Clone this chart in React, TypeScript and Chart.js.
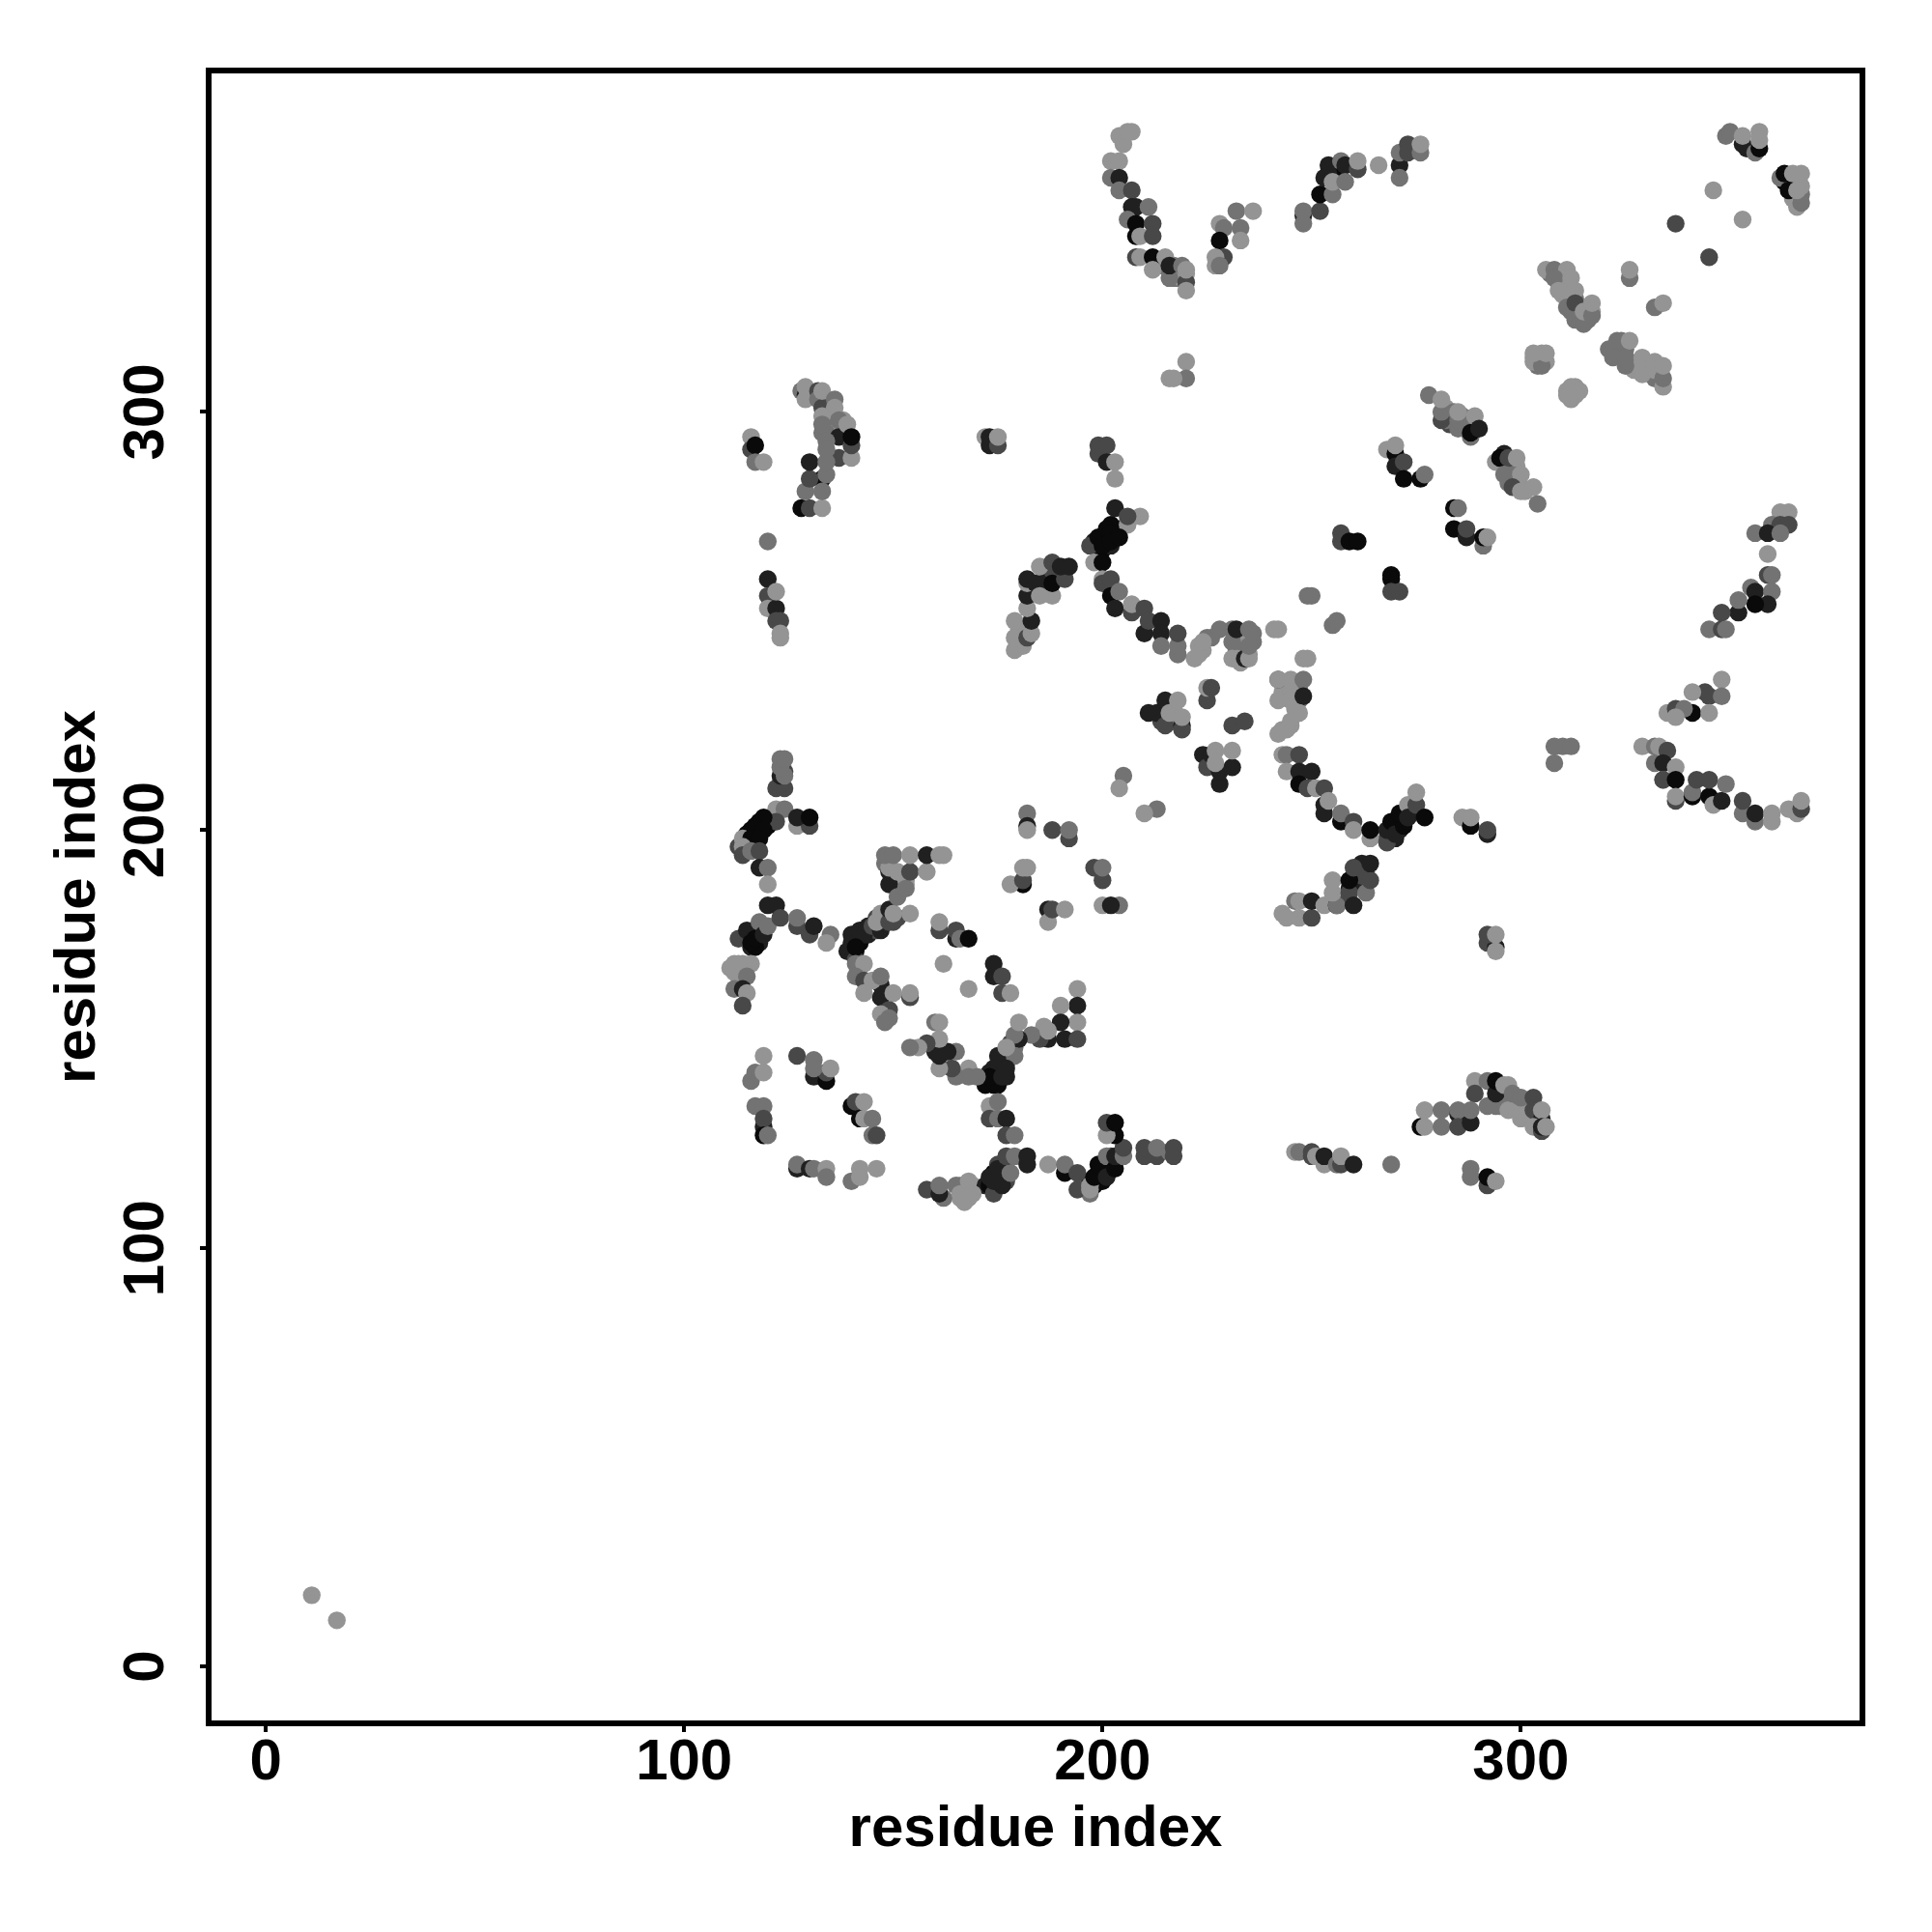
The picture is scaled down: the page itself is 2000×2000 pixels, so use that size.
import React, { useEffect, useRef } from "react";
import { Chart, registerables } from "chart.js";

Chart.register(...registerables);

const L = 148, M = 115, D = 72, K = 32, B = 10;
const tickValues = [0, 100, 200, 300];
const axisTitle = "residue index";

const denseLight = [
  [307,333,M],[309,333,M],[310,331,M],[309,331,L],[310,328,L],[311,329,L],[312,327,L],[313,327,M],[312,324,M],[314,324,M],[316,325,L],[316,322,M],[315,322,L],[317,324,L],[314,323,M],[313,323,M],[310,333,L],[311,327,L],
  [323,315,M],[324,313,D],[326,312,M],[327,311,L],[328,311,L],[330,311,L],[331,309,L],[332,308,M],[333,309,M],[327,310,L],[325,315,M],
  [304,312,L],[305,312,M],[304,313,L],[305,314,L],[304,311,M],[306,312,L],[303,313,L],
  [312,305,L],[311,304,L],[313,306,L],[313,304,L],[312,304,L],
  [243,235,L],[244,235,L],[246,235,M],[247,234,M],[243,232,L],[244,232,L],[246,232,M],[247,231,M],[246,229,L],[245,225,L],[243,224,L],[243,233,L],[245,233,L],
  [231,248,M],[233,247,M],[234,247,L],[236,247,M],[232,243,M],[233,243,L],[235,242,L],[234,243,M],[232,241,L],[236,245,M],[224,243,L],[225,246,M],[226,246,M],[222,241,L],
  [151,187,L],[152,188,M],[152,186,M],[153,187,L],[150,187,L],[150,189,M],[153,188,L],[148,192,M],[149,193,D],
  [166,115,L],[167,114,L],[168,113,L],[169,115,L],[167,113,L],[166,112,L],[168,115,L],
  [134,300,L],[135,297,M],[136,296,M],[137,296,L],[138,296,L],[135,299,M],[138,298,L],[133,295,M],[134,295,M],[138,295,L],
  [365,355,L],[366,355,L],[366,351,M],[367,352,M],[367,354,L],[365,351,L],
  [282,301,L],[283,299,M],[284,300,M],[286,299,M],[283,297,D],[286,297,M],[287,296,M],[282,298,M],
  [296,287,M],[297,286,L],[298,284,L],[299,283,L],[301,281,L],[299,287,L],[298,288,M],[300,282,L],[297,283,M],
  [298,135,M],[299,136,M],[301,134,L],[302,135,M],[300,131,L],[296,137,M],[301,132,L],[303,134,M],[296,134,M],[294,134,M],[295,134,M],
  [180,245,L],[180,244,L],[181,247,L],[181,244,L],[180,248,L],[112,168,L],[114,168,L],[112,166,L],[114,166,L],
  [216,230,L],[217,229,L],[217,226,L],[214,226,D],[215,229,K],[213,335,L],[214,335,M],[217,335,M],[218,332,M],[218,334,L],[217,332,M],[219,332,L],[220,333,L],
];
const denseDark = [
  [199,268,B],[200,270,B],[201,270,B],[203,272,B],[203,270,B],[204,272,K],[202,273,B],[200,267,B],[198,269,K],[202,268,K],
  [269,199,K],[270,200,B],[271,202,B],[272,203,B],[273,204,K],[268,198,D],[270,198,K],[271,200,K],[274,205,K],[269,201,B],
  [115,199,B],[116,200,B],[117,199,B],[118,202,B],[119,202,B],[120,201,B],[115,197,K],[117,197,K],[113,196,D],
  [115,175,K],[116,175,B],[117,176,B],[118,176,K],[119,177,K],[116,172,K],[118,173,K],[117,172,B],
  [140,175,K],[141,174,K],[141,171,B],[142,173,B],[144,175,K],[144,177,K],[146,176,D],[146,179,D],[148,178,K],[148,180,D],[147,177,D],[150,178,D],[149,179,M],
  [175,142,K],[176,143,K],[177,144,D],[178,146,D],[179,148,M],[178,149,D],[172,139,B],[174,139,B],[175,139,B],[177,141,K],[178,147,M],
  [172,115,K],[174,114,K],[175,116,K],[176,117,K],[177,119,D],[174,118,B],[175,120,D],[177,116,D],[173,115,B],
  [197,116,B],[198,115,B],[199,116,B],[199,118,B],[200,119,K],[201,120,K],[200,116,B],[202,120,K],[202,122,D],[197,113,M],
  [183,258,K],[186,258,K],[186,261,L],[187,262,D],[189,262,K],[187,261,K],[190,262,K],[191,262,K],[188,262,D],
  [363,355,B],[354,363,K],[256,358,K],[255,357,B],[254,357,K],[259,186,K],[261,187,K],[262,189,D],[262,192,K],[263,190,D],[258,184,D],
];

const corner = [[11, 17, L], [17, 11, L]];
const leftUpperA = [
  [116,294,L],[116,291,D],[117,292,B],[117,288,M],[119,288,L],
  [128,277,B],[133,284,B],[130,277,D],[133,277,L],[129,281,M],[133,281,M],[130,284,D],[134,285,M],[130,288,K],[137,289,D],[140,289,L],[134,288,M],
  [128,305,M],[129,304,K],[129,303,L],[129,306,L],[132,305,D],[132,303,M],[133,301,D],[133,305,L],[136,303,M],[136,301,L],[133,299,L],[133,297,M],[137,298,M],[137,294,K],[134,293,M],[134,291,M],[139,297,L],[140,292,D],[140,294,B],
];
const leftUpperB = [
  [120,269,M],[120,260,K],[120,256,D],[120,253,L],[122,253,K],[122,257,L],[122,250,D],[123,250,D],[123,247,L],[123,246,L],
];
const stackBlock = [
  [122,210,D],[124,210,D],[123,211,D],[123,213,K],[124,214,D],[124,213,M],[123,215,M],[123,217,M],[124,217,M],[122,205,L],[124,205,M],
  [122,202,D],[127,201,L],[130,201,D],[127,203,K],[130,203,B],[119,203,B],[117,201,B],[119,200,B],[114,198,L],[116,198,B],[118,198,B],[114,196,L],[114,194,D],[116,195,M],[118,195,D],
  [118,191,K],[120,191,M],[120,187,L],
];
const blockB = [
  [113,174,D],[115,176,K],[116,173,B],[118,178,M],[117,174,B],[119,175,K],[120,177,M],[120,182,K],[122,182,K],[123,179,D],
  [127,177,D],[127,179,M],[130,175,D],[131,177,K],[135,175,M],[134,173,L],
  [111,167,L],[113,168,L],[113,165,L],[116,168,L],[115,165,M],[112,162,M],[114,162,K],[115,161,L],[114,158,D],
];
const blockC = [
  [139,171,K],[140,173,K],[141,169,D],[142,176,K],[143,175,K],[141,172,B],[145,177,D],[147,176,K],[146,178,L],[147,180,L],[149,178,D],[149,181,K],[151,179,D],[150,180,L],[154,180,L],
  [149,187,K],[149,190,K],[149,191,L],[151,190,L],[151,184,M],[153,186,M],[154,190,D],[158,190,L],[148,194,M],[150,194,M],[154,194,L],[158,194,K],[161,194,L],[162,194,L],
  [141,168,M],[143,168,L],[141,165,M],[143,164,D],[147,163,K],[147,160,K],[145,164,L],[147,165,M],[143,161,L],[150,161,L],[154,160,D],[154,161,L],
  [149,157,D],[147,156,L],[149,155,M],[148,154,M],
];
const blockD = [
  [161,176,D],[161,178,L],[165,174,K],[165,176,D],[166,174,M],[168,174,B],[162,168,L],[174,168,K],[174,165,K],[176,165,D],[176,161,D],[178,161,L],[168,162,L],
  [205,213,M],[204,210,L],[213,205,M],[210,204,L],[182,204,M],[182,201,K],[182,200,L],[188,200,D],[192,198,D],[192,200,M],[181,187,B],[178,187,L],[181,188,D],[181,191,L],[182,191,L],
  [198,191,D],[200,188,D],[200,191,M],[187,181,K],[187,178,L],[188,181,D],[191,181,L],[200,182,L],[204,182,M],[202,182,K],
];
const bandE = [
  [194,162,L],[194,158,K],[190,158,L],[194,154,L],[190,154,K],[186,153,L],[191,150,K],[194,150,D],[187,150,K],[185,150,D],[183,151,M],[187,152,L],[180,150,K],[179,151,M],[180,154,L],
  [177,146,D],[175,146,K],[179,146,M],[177,148,L],[177,143,K],[174,143,K],[173,142,K],[172,140,B],[174,140,B],[173,141,B],[176,141,K],[168,143,L],[165,141,M],[168,141,M],[170,141,M],[164,143,D],[161,143,L],
  [165,147,M],[163,147,K],[160,147,K],[161,146,K],[161,150,L],[160,154,M],[161,154,L],[158,149,D],[156,148,L],[154,148,M],
];
const lowerLeft = [
  [119,146,L],[116,140,M],[117,142,M],[119,142,L],[127,146,D],[131,145,M],[131,141,K],[134,140,B],[134,142,D],[131,143,M],[135,143,L],
  [117,134,M],[119,134,M],[119,129,K],[119,131,D],[119,127,B],[120,127,M],
  [140,134,B],[141,135,D],[143,135,L],[142,131,B],[143,131,L],[145,131,M],[145,127,M],[146,127,D],
  [127,119,K],[127,120,M],[130,119,K],[131,119,M],[134,119,L],[134,117,M],[142,119,L],[146,119,L],[140,116,M],[142,117,L],
];
const lowerMiddle = [
  [158,114,D],[162,112,M],[161,113,K],[161,115,M],[165,115,M],[167,111,L],[166,113,L],[168,116,L],[169,113,L],[168,112,L],
  [173,117,K],[174,113,D],[176,115,K],[174,116,K],[175,119,K],[178,118,M],[177,122,D],[179,122,M],[182,120,K],[182,122,K],
  [173,134,L],[175,135,M],[173,131,D],[175,131,M],[177,131,K],[177,127,D],[179,127,M],
  [187,120,L],[191,118,B],[191,120,M],[194,114,D],[194,118,D],[197,114,L],[197,115,L],[198,117,B],[199,120,B],[201,117,K],[201,122,M],[203,119,B],[203,122,K],[205,122,M],[205,124,D],[203,127,B],[201,127,L],[201,130,D],[203,130,B],
  [210,122,D],[210,124,D],[213,122,D],[213,124,M],[216,123,M],[217,122,D],[217,124,D],
];
const lowerRight = [
  [246,123,L],[247,123,M],[250,122,D],[250,123,D],[251,122,L],[253,120,L],[253,122,K],[256,120,M],[257,120,D],[257,122,L],[260,120,K],[269,120,M],
  [276,129,B],[277,133,L],[281,133,M],[277,129,L],[281,129,M],[285,132,K],[285,133,M],[285,129,D],[288,130,K],[289,140,L],[289,137,D],[288,133,M],[292,134,M],[292,140,M],[294,137,K],[294,140,B],
  [296,139,L],[297,139,L],[297,133,L],[298,137,M],[300,133,L],[300,136,M],[303,136,D],[303,133,D],[305,131,K],[305,133,L],[303,129,L],[305,128,D],[305,129,K],[306,129,L],
  [288,119,M],[288,117,M],[292,115,D],[292,117,B],[294,116,L],
];
const center = [
  [211,228,K],[213,228,K],[215,231,K],[215,225,D],[216,228,L],[219,225,K],[219,224,D],[218,231,L],[219,227,L],
  [225,231,D],[225,234,L],[226,234,D],[231,225,D],[234,226,D],
  [224,218,K],[225,215,D],[228,211,K],[228,214,K],[226,218,K],[227,219,L],[231,215,K],[231,219,L],[227,216,L],
  [242,236,D],[242,231,L],[245,231,L],[242,236,L],[245,236,L],[248,236,M],[248,232,K],[247,228,L],[245,226,L],[244,224,L],[242,223,L],
  [243,218,L],[244,218,M],[247,218,D],[244,214,L],[247,214,K],[247,211,B],[249,210,D],[250,214,K],[251,210,L],[253,210,D],[253,204,K],[253,206,K],[254,207,L],[257,202,B],[257,204,M],[260,202,D],[260,200,L],[264,198,L],[264,200,B],
  [268,197,D],[268,200,K],[269,202,B],[270,199,K],[272,201,B],[271,204,B],[273,206,L],[273,203,K],[275,206,D],[275,209,L],[277,203,B],[286,203,L],[288,201,B],[288,203,L],[292,199,K],[292,200,D],
  [292,173,D],[294,172,K],[294,171,L],[292,175,D],[294,175,L],
];
const lowerHook = [
  [243,180,L],[244,179,L],[247,179,L],[250,179,D],[246,183,M],[247,183,L],[250,183,K],[253,182,L],[256,182,B],[256,182,M],[255,185,L],[259,185,D],[260,182,K],[255,188,L],[259,188,B],[260,191,D],[263,185,M],[264,188,D],[264,192,K],
];
const middleArc = [
  [199,290,D],[199,292,D],[201,292,D],[201,288,K],[203,288,L],[203,284,L],
  [203,277,K],[206,273,L],[209,275,L],[206,275,D],[197,268,D],[199,270,B],[200,268,B],[201,272,B],[202,271,B],[202,269,B],[204,270,B],
  [198,264,L],[200,264,B],[200,260,L],[200,259,D],[202,260,D],[202,256,B],[204,257,M],[203,253,K],[207,252,D],[207,254,L],[210,253,D],[210,247,K],[211,250,D],[214,250,K],[214,247,K],[214,244,M],[218,242,M],[218,244,M],[218,247,D],
  [223,242,L],[223,244,L],[224,245,L],[228,248,M],[231,245,M],[231,241,L],[232,248,K],[233,240,L],[234,241,K],[235,241,L],[235,244,M],[235,248,M],[241,248,L],[242,248,L],
  [249,256,M],[250,256,M],[255,249,M],[256,250,M],[248,241,L],[249,241,L],
  [257,271,D],[257,269,D],[259,269,B],[261,269,B],
  [179,243,L],[179,246,L],[179,250,L],[182,246,D],[183,247,L],[183,250,K],[182,253,L],[182,256,K],[182,259,L],[182,260,K],[184,259,K],[188,256,L],[185,256,L],[188,259,B],[191,260,D],[185,263,L],[188,264,D],[190,263,K],[192,263,K],
  [172,294,L],[173,292,K],[173,294,K],[175,292,D],[175,294,L],
];
const upperArcs = [
  [205,366,D],[204,366,L],[205,364,L],[206,367,L],[207,367,L],[202,360,L],[204,360,L],[202,356,M],[204,356,K],[204,353,M],[207,353,D],[207,349,K],[208,349,K],[211,349,M],[206,346,M],[208,345,B],[212,345,D],[208,342,B],[209,342,L],[212,342,D],
  [208,337,D],[209,337,L],[212,337,B],[215,337,L],[212,334,L],[216,332,M],[216,335,K],[219,335,M],[220,331,D],[220,334,L],[220,329,L],[220,312,L],[220,308,M],[216,308,L],[217,308,L],
  [232,348,M],[236,348,L],[228,345,L],[229,344,M],[233,344,M],[233,341,L],[228,341,B],[229,337,D],[227,337,L],[227,335,L],[228,335,M],
  [248,347,K],[248,348,M],[248,345,M],[252,348,D],[252,352,B],[255,352,M],[254,359,K],[253,356,K],[255,355,L],[257,360,M],[258,359,K],[258,355,M],[261,358,D],[261,360,L],[266,359,L],
  [271,359,K],[271,362,M],[271,356,M],[273,364,D],[273,362,D],[276,362,M],[276,364,L],
];
const upperRight = [
  [349,366,M],[350,367,M],[353,364,K],[353,366,L],[356,362,M],[357,363,B],[357,367,L],[357,365,L],
  [346,353,L],[353,346,L],[337,345,D],[345,337,D],
  [362,356,M],[363,357,B],[364,353,B],[365,357,L],[367,357,L],[366,349,L],[367,350,M],[366,353,L],
  [306,334,L],[308,334,M],[311,334,L],[308,332,M],[312,332,L],[309,329,L],[313,329,L],[311,325,M],[313,326,D],[313,322,M],[315,321,M],[315,324,L],[317,323,M],[317,326,L],
  [326,332,M],[326,334,L],[332,325,M],[334,326,L],
  [321,315,M],[323,317,M],[322,313,M],[324,317,M],[325,311,M],[325,313,M],[326,317,L],[329,309,L],[329,313,L],[332,312,L],[332,310,L],[334,306,L],[334,308,M],[334,311,L],
  [303,312,L],[305,311,M],[306,314,L],[303,314,L],[311,305,L],[312,303,L],[312,306,L],[314,305,L],
];
const diagonal = [
  [278,304,M],[281,298,D],[281,300,M],[281,303,L],[285,296,M],[285,298,M],[285,300,L],[288,294,M],[288,295,B],[289,299,L],[290,296,K],
  [268,291,L],[270,290,B],[270,292,L],[270,287,K],[272,288,D],[272,284,B],[276,284,B],[277,285,M],
  [294,288,L],[296,290,K],[295,289,B],[297,289,D],[299,289,L],[296,285,M],[300,285,L],[298,282,D],[300,281,L],[303,282,L],[304,278,M],
  [284,277,B],[285,277,M],[284,272,B],[287,270,K],[287,272,D],[291,268,M],[291,270,B],[292,270,L],
  [269,261,B],[269,260,B],[269,257,D],[271,257,D],
];
const rightColumn = [
  [362,276,L],[364,276,L],[360,273,M],[362,273,D],[364,273,D],[356,271,M],[359,271,K],[362,271,M],[359,266,L],[359,261,D],[360,261,M],[355,258,M],[356,257,K],[360,257,M],[359,254,K],[356,254,B],[352,252,K],[352,255,M],[348,252,D],
  [345,248,M],[348,248,D],[349,248,M],
  [348,236,L],[344,233,D],[345,232,D],[348,232,M],[341,233,L],[341,228,B],[345,228,L],[335,228,L],[337,229,D],[339,229,M],[337,227,L],
  [308,216,M],[308,220,M],[310,220,M],[312,220,M],
  [329,220,L],[332,220,M],[333,220,L],[335,219,D],[332,216,M],[334,216,K],[337,215,L],[334,212,L],[334,212,D],[337,212,B],[337,207,D],[337,208,L],
  [341,208,B],[341,209,M],[342,212,D],[345,208,B],[345,212,D],[346,206,L],[348,207,K],[349,211,M],[353,204,M],[353,207,D],[356,202,M],[356,204,K],[360,202,L],[360,204,L],[364,205,L],[366,204,L],[367,205,D],[367,207,L],
];

const clusters = [
  denseLight, denseDark, corner, leftUpperA, leftUpperB, stackBlock, blockB, blockC, blockD, bandE, lowerLeft,
  lowerMiddle, lowerRight, center, lowerHook, middleArc, upperArcs, upperRight, diagonal, rightColumn,
];

const points = clusters.flat();

const frame = {
  id: "frame",
  afterDraw(chart: any) {
    const { ctx, chartArea: a } = chart;
    ctx.save();
    ctx.strokeStyle = "#000";
    ctx.lineWidth = 6;
    ctx.strokeRect(a.left, a.top, a.right - a.left, a.bottom - a.top);
    ctx.restore();
  },
};

export default function App() {
  const ref = useRef<HTMLCanvasElement>(null);
  useEffect(() => {
    const font = { family: "'Liberation Sans'", weight: "bold" as const, size: 60 };
    const setTicks = (s: any) => {
      s.ticks = tickValues.map((value) => ({ value }));
    };
    const chart = new Chart(ref.current!, {
      type: "scatter",
      data: {
        datasets: [
          {
            data: points.map((p) => ({ x: p[0], y: p[1] })),
            pointRadius: 9.2,
            pointBorderWidth: 0,
            pointBackgroundColor: points.map((p) => `rgb(${p[2]},${p[2]},${p[2]})`),
          },
        ],
      },
      options: {
        animation: false,
        responsive: false,
        devicePixelRatio: 1,
        layout: { padding: { left: 0, right: 72, top: 73, bottom: 0 } },
        plugins: { legend: { display: false }, tooltip: { enabled: false } },
        scales: {
          x: {
            type: "linear",
            min: -13.64,
            max: 381.64,
            afterBuildTicks: setTicks,
            afterFit: (s: any) => { s.height = 216; },
            grid: { drawOnChartArea: false, tickLength: 9, tickWidth: 4, tickColor: "#000", lineWidth: 4, color: "#000" },
            border: { display: false },
            ticks: { color: "#000", font, padding: -4, maxRotation: 0, minRotation: 0, autoSkip: false, callback: (v: any) => String(v) },
            title: { display: true, text: axisTitle, color: "#000", font, padding: { top: 0, bottom: 70 } },
          },
          y: {
            type: "linear",
            min: -13.64,
            max: 381.64,
            afterBuildTicks: setTicks,
            afterFit: (s: any) => { s.width = 216; },
            grid: { drawOnChartArea: false, tickLength: 9, tickWidth: 4, tickColor: "#000", lineWidth: 4, color: "#000" },
            border: { display: false },
            ticks: { color: "#000", font, padding: 4, minRotation: 90, maxRotation: 90, crossAlign: "center", autoSkip: false, callback: (v: any) => String(v) },
            title: { display: true, text: axisTitle, color: "#000", font, padding: { top: 45, bottom: 0 } },
          },
        },
      },
      plugins: [frame],
    });
    return () => chart.destroy();
  }, []);
  return (
    <canvas
      ref={ref}
      width={2000}
      height={2000}
      style={{ position: "absolute", left: 0, top: 0, width: 2000, height: 2000, background: "#fff" }}
    />
  );
}
